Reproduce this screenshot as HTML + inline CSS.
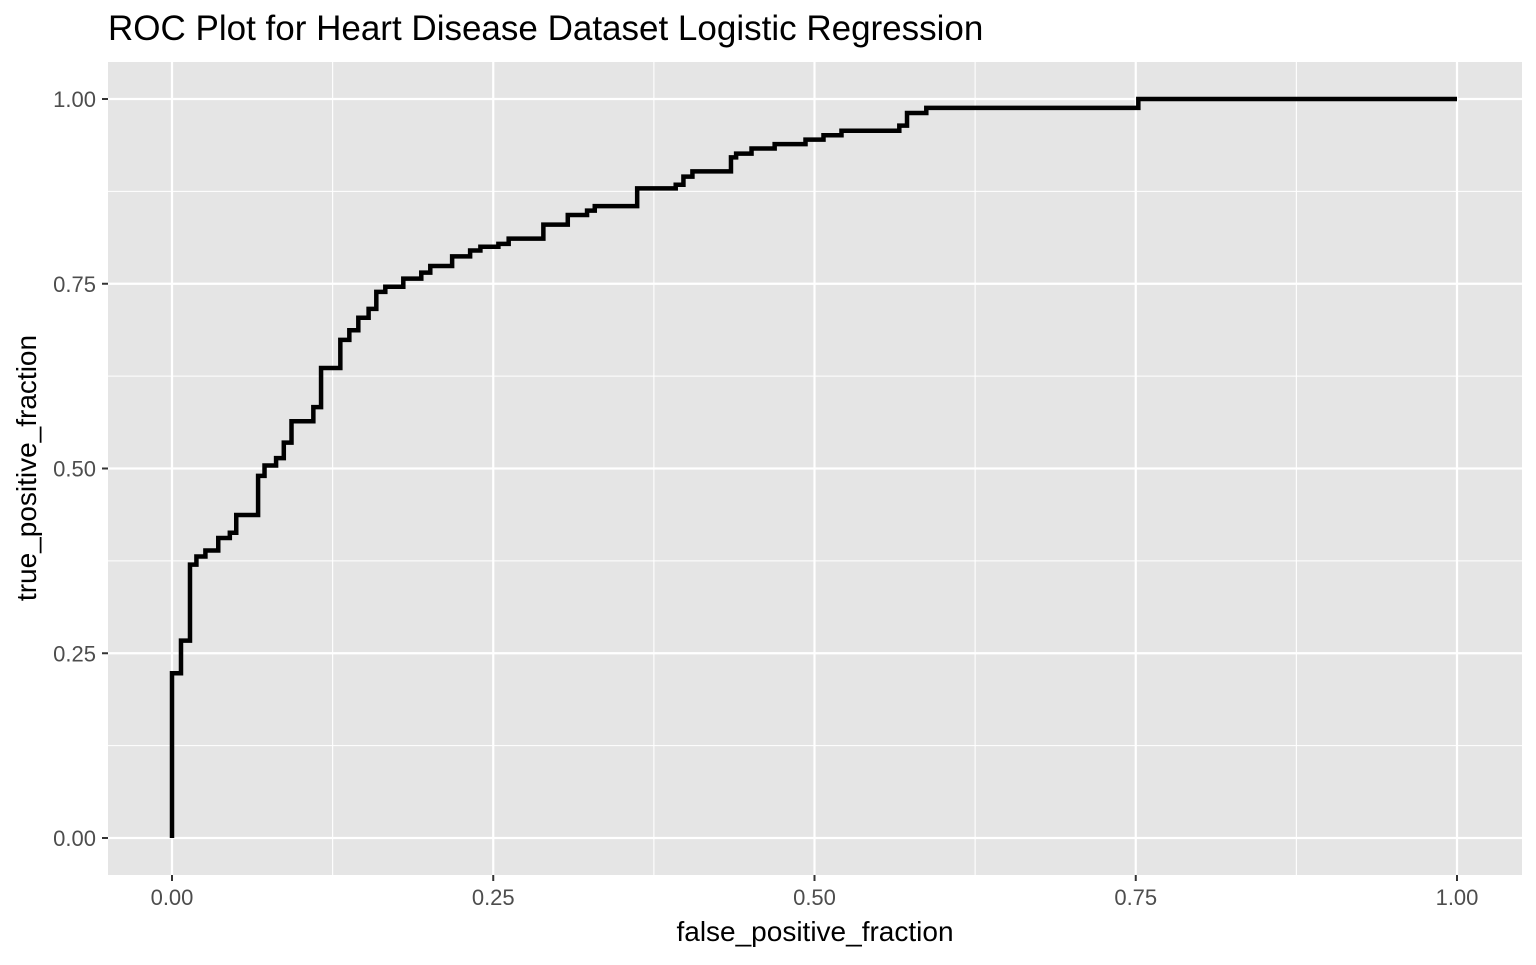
<!DOCTYPE html>
<html><head><meta charset="utf-8"><style>
body{margin:0;background:#fff;}
svg text{font-family:"Liberation Sans",Arial,sans-serif;}
</style></head><body>
<svg width="1536" height="960" xmlns="http://www.w3.org/2000/svg">
<text x="108" y="40" font-size="35" fill="#000">ROC Plot for Heart Disease Dataset Logistic Regression</text>
<rect x="108" y="62" width="1414" height="813" fill="#e5e5e5"/>
<g id="grid"></g>
<path id="roc" fill="none" stroke="#000" stroke-width="4.5" stroke-linejoin="miter"/>
<g id="axes"></g>
<text x="815" y="941" font-size="28" text-anchor="middle" fill="#000">false_positive_fraction</text>
<text transform="translate(36,468) rotate(-90)" font-size="28" text-anchor="middle" fill="#000">true_positive_fraction</text>
</svg>
<script>
const xTicks=[0,0.25,0.5,0.75,1];
const yTicks=[0,0.25,0.5,0.75,1];
const tickLabels=["0.00","0.25","0.50","0.75","1.00"];
// step points: at fpr[i] the curve rises to tpr[i]
const fpr=[0,0,0.007,0.014,0.019,0.026,0.036,0.045,0.05,0.067,0.072,0.081,0.087,0.093,0.11,0.116,0.131,0.138,0.145,0.153,0.159,0.166,0.18,0.194,0.201,0.218,0.232,0.24,0.254,0.262,0.289,0.308,0.323,0.329,0.362,0.392,0.398,0.405,0.435,0.439,0.451,0.469,0.493,0.507,0.521,0.566,0.572,0.587,0.752,1];
const tpr=[0,0.223,0.267,0.37,0.381,0.389,0.406,0.413,0.437,0.49,0.504,0.514,0.535,0.564,0.583,0.636,0.674,0.687,0.704,0.716,0.739,0.746,0.757,0.765,0.774,0.787,0.795,0.8,0.804,0.811,0.83,0.843,0.849,0.855,0.879,0.884,0.895,0.902,0.921,0.926,0.933,0.939,0.945,0.951,0.957,0.964,0.981,0.988,1,1];
const X=v=>172+v*1285, Y=v=>838-v*739;
const ns="http://www.w3.org/2000/svg";
const grid=document.getElementById('grid'), axes=document.getElementById('axes');
function line(p,x1,y1,x2,y2,w,name){const l=document.createElementNS(ns,'line');l.setAttribute('x1',x1);l.setAttribute('y1',y1);l.setAttribute('x2',x2);l.setAttribute('y2',y2);l.setAttribute('stroke',p===axes?'#333':'#fff');l.setAttribute('stroke-width',w);


(p).appendChild(l);}
for(let i=0;i<xTicks.length-1;i++){const m=(xTicks[i]+xTicks[i+1])/2;line(grid,X(m),62,X(m),875,1.1,'x-minor-gridline');}
for(let i=0;i<yTicks.length-1;i++){const m=(yTicks[i]+yTicks[i+1])/2;line(grid,108,Y(m),1522,Y(m),1.1,'y-minor-gridline');}
xTicks.forEach((v,i)=>{line(grid,X(v),62,X(v),875,2.2,'x-gridline');line(axes,X(v),875,X(v),881,2,'x-tick');
const t=document.createElementNS(ns,'text');t.setAttribute('x',X(v));t.setAttribute('y',905);t.setAttribute('font-size','22');t.setAttribute('fill','#4d4d4d');t.setAttribute('text-anchor','middle');t.textContent=tickLabels[i];


axes.appendChild(t);});
yTicks.forEach((v,i)=>{line(grid,108,Y(v),1522,Y(v),2.2,'y-gridline');line(axes,102,Y(v),108,Y(v),2,'y-tick');
const t=document.createElementNS(ns,'text');t.setAttribute('x',96);t.setAttribute('y',Y(v)+8);t.setAttribute('font-size','22');t.setAttribute('fill','#4d4d4d');t.setAttribute('text-anchor','end');t.textContent=tickLabels[i];


axes.appendChild(t);});
let d='M'+X(fpr[0])+','+Y(tpr[0]);
for(let i=1;i<fpr.length;i++){d+=' L'+X(fpr[i])+','+Y(tpr[i-1])+' L'+X(fpr[i])+','+Y(tpr[i]);}
document.getElementById('roc').setAttribute('d',d);
</script>
</body></html>
